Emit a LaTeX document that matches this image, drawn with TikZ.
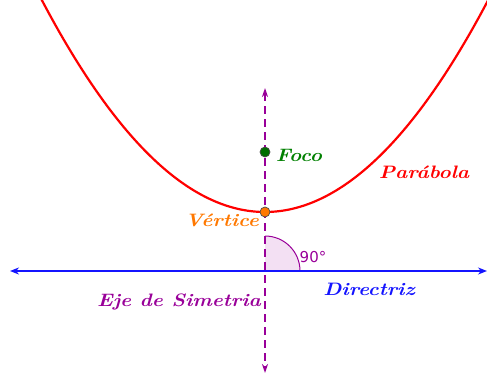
\documentclass[tikz,border=0pt]{standalone}
\usepackage{fontspec}
\usetikzlibrary{arrows.meta}
\newfontfamily\numfont{DejaVu Sans}
\definecolor{pred}{RGB}{255,0,0}
\definecolor{pblue}{RGB}{20,20,255}
\definecolor{ppurple}{RGB}{153,0,153}
\definecolor{pgreen}{RGB}{0,128,0}
\definecolor{porange}{RGB}{255,120,0}
\newcommand{\widetxt}[1]{\scalebox{1.15}[1]{#1}}
\tikzset{
  lbl/.style={font=\fontsize{18}{20}\selectfont\bfseries\itshape, inner sep=0pt},
  ptdot/.style={circle, draw=black!70, line width=0.7pt, minimum size=10pt, inner sep=0pt},
}
\begin{document}
\begin{tikzpicture}[x=1pt,y=-1pt]
\useasboundingbox (0,0) rectangle (487,374);
\clip (0,0) rectangle (487,374);
% angle sector
\coordinate (O) at (265,271);
\fill[ppurple!12] (O) -- (300,271) arc[start angle=0,end angle=-90,radius=35] -- cycle;
\draw[ppurple, line width=1pt] (300,271) arc[start angle=0,end angle=-90,radius=35];
% parabola
\draw[pred, line width=2.2pt, domain=30:500, samples=120, smooth] plot (\x,{212-((\x-265)/15.33)*((\x-265)/15.33)});
% directrix
\coordinate (dl) at (10,271);
\coordinate (dr) at (487,271);
\draw[pblue, line width=2.4pt, {Stealth[length=9pt,width=7pt]}-{Stealth[length=9pt,width=7pt]}] (dl) -- (dr);
% axis
\coordinate (at) at (265,88);
\coordinate (ab) at (265,373);
\draw[ppurple, line width=1.8pt, dash pattern=on 8pt off 5pt, {Stealth[length=9pt,width=6pt]}-{Stealth[length=9pt,width=6pt]}] (at) -- (ab);
% points
\node[ptdot, fill=pgreen!85!black] (F) at (265,152) {};
\node[ptdot, fill=porange] (V) at (265,212) {};
% labels
\node[lbl, text=pgreen] (lf) at (299,155) {\widetxt{Foco}};
\node[lbl, text=pred] (lp) at (424,172) {\widetxt{Parábola}};
\node[lbl, text=porange] (lv) at (222,220) {\widetxt{Vértice}};
\node[lbl, text=pblue] (ld) at (369,289) {\widetxt{Directriz}};
\node[lbl, text=ppurple] (le) at (179,302) {\widetxt{Eje de Simetria}};
\node[text=ppurple, font=\numfont\fontsize{15}{17}\selectfont, inner sep=0pt] (la) at (313,257) {90°};
\end{tikzpicture}
\end{document}
